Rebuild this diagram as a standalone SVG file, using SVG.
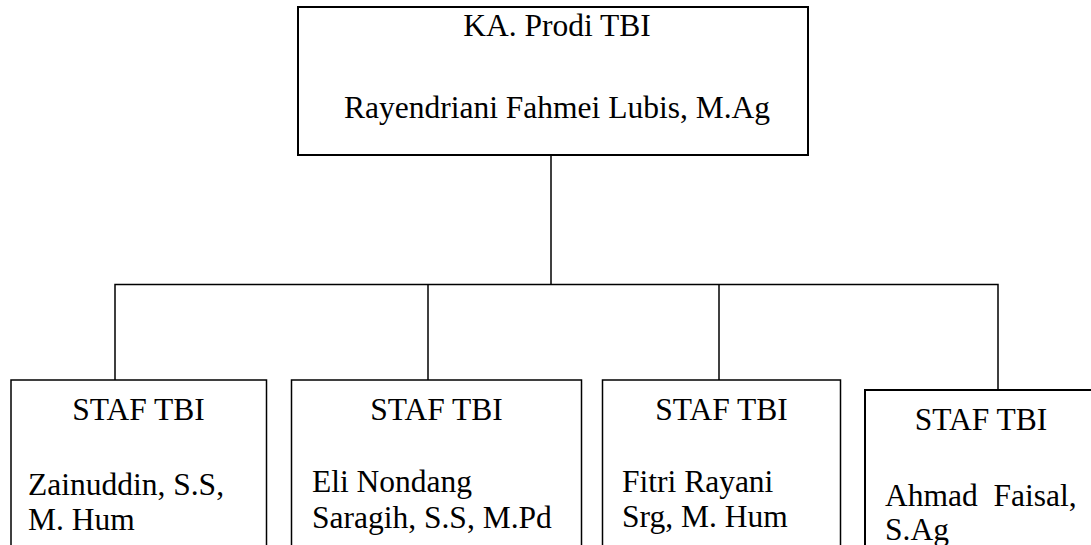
<svg xmlns="http://www.w3.org/2000/svg" width="1091" height="545" viewBox="0 0 1091 545">
<style>
.box{fill:#fff;stroke:#000;stroke-width:1.5}
.thick{stroke-width:2}
.c{text-anchor:middle}
.conn{fill:none;stroke:#000;stroke-width:1.5}
</style>
<rect width="1091" height="545" fill="#fff"/>
<g id="connectors">
<line class="conn" x1="551" y1="148" x2="551" y2="284.5"/>
<polyline class="conn" points="115,380 115,284.5 998,284.5 998,390"/>
<line class="conn" x1="428" y1="284.5" x2="428" y2="380"/>
<line class="conn" x1="719" y1="284.5" x2="719" y2="380"/>
</g>
<g font-family="'Liberation Serif', 'Times New Roman', serif" font-size="31.5" fill="#000">
<g id="kaprodi">
<rect class="box thick" x="298" y="7" width="510" height="148"/>
<text class="c" x="557" y="36">KA. Prodi TBI</text>
<text class="c" x="557" y="118">Rayendriani Fahmei Lubis, M.Ag</text>
</g>
<g id="staf1">
<rect class="box" x="11" y="380" width="255.5" height="170"/>
<text class="c" x="138.5" y="420">STAF TBI</text>
<text x="28" y="495">Zainuddin, S.S,</text>
<text x="28" y="530">M. Hum</text>
</g>
<g id="staf2">
<rect class="box" x="291.5" y="380" width="290" height="170"/>
<text class="c" x="436.5" y="420">STAF TBI</text>
<text x="312" y="492">Eli Nondang</text>
<text x="312" y="528">Saragih, S.S, M.Pd</text>
</g>
<g id="staf3">
<rect class="box" x="602.5" y="380" width="238" height="170"/>
<text class="c" x="721.5" y="420">STAF TBI</text>
<text x="622" y="492">Fitri Rayani</text>
<text x="622" y="527">Srg, M. Hum</text>
</g>
<g id="staf4">
<rect class="box thick" x="865" y="390" width="230" height="170"/>
<text class="c" x="981" y="430">STAF TBI</text>
<text x="885" y="506" xml:space="preserve">Ahmad  Faisal,</text>
<text x="885" y="540">S.Ag</text>
</g>
</g>
</svg>
